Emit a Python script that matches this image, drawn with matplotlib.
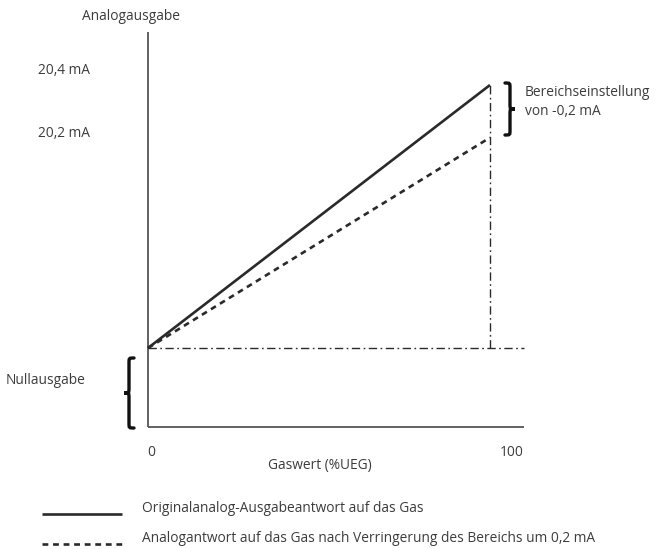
import matplotlib
matplotlib.use("Agg")
import matplotlib.pyplot as plt
from matplotlib.path import Path
from matplotlib.patches import PathPatch

plt.rcParams['font.family'] = ['Open Sans', 'DejaVu Sans']

# Schematic response: gas concentration (%UEG) vs. analog output level
gas = [0, 95]
original_output = [0.0, 1.0]      # original full-scale response
reduced_output = [0.0, 0.8]       # response after span reduced by 0.2 mA
zero_level = 0.0
axis_floor = -0.30
axis_top = 1.20
x_axis_end = 104.5

level_labels = ["20,4 mA", "20,2 mA"]
level_label_pos = [1.057, 0.814]
x_tick_values = [0, 100]
x_tick_labels = ["0", "100"]

W, H = 656, 549
fig = plt.figure(figsize=(W / 100, H / 100), dpi=100)
ax = fig.add_axes([0, 0, 1, 1])
ax.axis('off')

# pixel <-> data mapping of the schematic
X0, XS = 148, 3.6      # px of x=0, px per %UEG
Y0, YS = 348, 263      # px of zero level, px per unit
ax.set_xlim(-X0 / XS, (W - X0) / XS)
ax.set_ylim((Y0 - H) / YS, Y0 / YS)

def px_x(p):
    return (p - X0) / XS

def px_y(p):
    return (Y0 - p) / YS

ink = '#2a2a2a'
txt = '#3c3c3c'

# axes frame
ax.plot([0, 0], [axis_floor, axis_top], color='#555555', lw=1.3, solid_capstyle='butt')
ax.plot([0, x_axis_end], [axis_floor, axis_floor], color='#555555', lw=1.3, solid_capstyle='butt')

# reference lines (zero output and full-scale gas)
dashdot = (0, (6, 2.5, 1.2, 2.5))
ax.plot([0, x_axis_end], [zero_level, zero_level], color=ink, lw=1.0, linestyle=dashdot)
ax.plot([gas[1], gas[1]], [zero_level, 1.01], color=ink, lw=1.0, linestyle=dashdot)

# response lines
ax.plot(gas, original_output, color=ink, lw=1.9, solid_capstyle='butt')
ax.plot(gas, reduced_output, color=ink, lw=1.9, linestyle=(0, (2.2, 1.8)))

# curly braces
def brace(x_px, y_top, y_bot, w, direction=1):
    ym = (y_top + y_bot) / 2
    xm = x_px + direction * w / 2
    xt = x_px + direction * w
    r = 5
    pts = [(x_px, y_top),
           (xm, y_top), (xm, y_top), (xm, y_top + r),
           (xm, ym - r),
           (xm, ym), (xm, ym), (xt, ym),
           (xm, ym), (xm, ym), (xm, ym + r),
           (xm, y_bot - r),
           (xm, y_bot), (xm, y_bot), (x_px, y_bot)]
    codes = [Path.MOVETO,
             Path.CURVE4, Path.CURVE4, Path.CURVE4,
             Path.LINETO,
             Path.CURVE4, Path.CURVE4, Path.CURVE4,
             Path.CURVE4, Path.CURVE4, Path.CURVE4,
             Path.LINETO,
             Path.CURVE4, Path.CURVE4, Path.CURVE4]
    verts = [(px_x(a), px_y(b)) for a, b in pts]
    ax.add_patch(PathPatch(Path(verts, codes), fill=False, edgecolor='#111111',
                           lw=2.4, capstyle='round'))

brace(505, 83, 135, 10, direction=1)
brace(134, 358, 428, 10, direction=-1)

fs = 9.9
# axis titles
ax.text(px_x(131), px_y(16), "Analogausgabe", ha='center', va='center', fontsize=fs, color=txt)
ax.text(px_x(320), px_y(466), "Gaswert (%UEG)", ha='center', va='center', fontsize=fs, color=txt)

# level labels
for lab, yv in zip(level_labels, level_label_pos):
    ax.text(px_x(38), yv, lab, ha='left', va='center', fontsize=fs, color=txt)

# x tick labels
for xv, lab in zip(x_tick_values, x_tick_labels):
    ax.text(xv + 1, px_y(452), lab, ha='center', va='center', fontsize=fs, color=txt)

# annotations
ax.text(px_x(525), px_y(92), "Bereichseinstellung", ha='left', va='center', fontsize=fs, color=txt)
ax.text(px_x(525), px_y(111), "von -0,2 mA", ha='left', va='center', fontsize=fs, color=txt)
ax.text(px_x(6), px_y(381), "Nullausgabe", ha='left', va='center', fontsize=fs, color=txt)

# legend
ax.plot([px_x(42), px_x(122)], [px_y(514), px_y(514)], color=ink, lw=1.9, solid_capstyle='butt')
ax.plot([px_x(42), px_x(122)], [px_y(544), px_y(544)], color=ink, lw=1.9, linestyle=(0, (2.2, 1.8)))
ax.text(px_x(142), px_y(509), "Originalanalog-Ausgabeantwort auf das Gas", ha='left', va='center',
        fontsize=fs, color=txt)
ax.text(px_x(142), px_y(538), "Analogantwort auf das Gas nach Verringerung des Bereichs um 0,2 mA",
        ha='left', va='center', fontsize=fs, color=txt)

fig.savefig("out.png", dpi=100)
